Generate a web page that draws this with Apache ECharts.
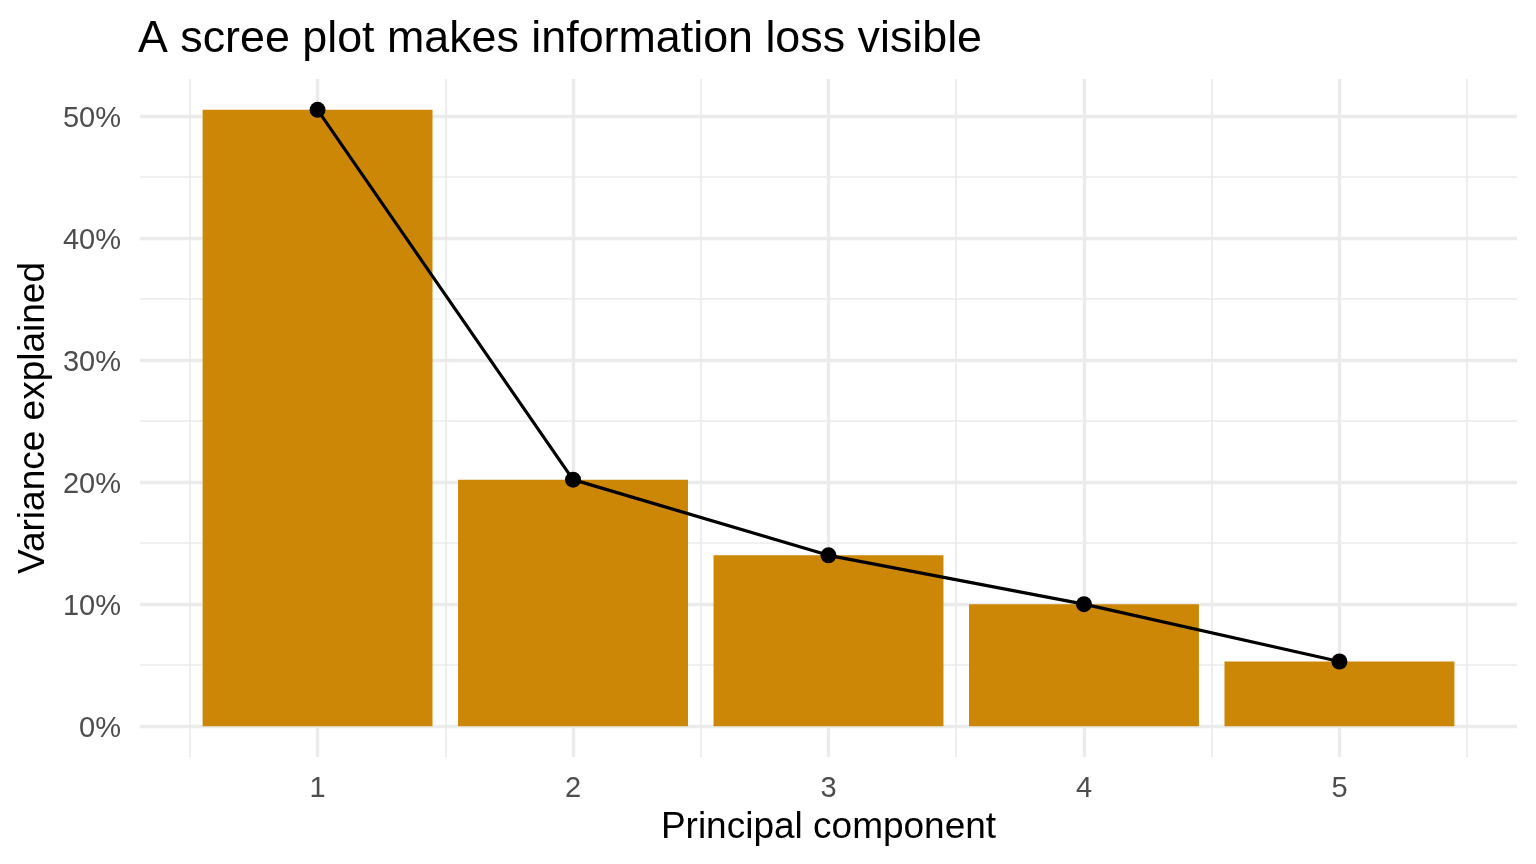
<!DOCTYPE html>
<html>
<head>
<meta charset="utf-8">
<script src="https://cdn.jsdelivr.net/npm/echarts@6/dist/echarts.min.js"></script>
<style>
  html, body { margin: 0; padding: 0; background: #fff; }
  #chart { width: 1536px; height: 864px; }
</style>
</head>
<body>
<div id="chart"></div>
<script>
// data
const components = [1, 2, 3, 4, 5];
const varianceExplained = [50.5, 20.2, 14.0, 10.0, 5.3];
const yMajorTicks = [0, 10, 20, 30, 40, 50];
const yMinorTicks = [5, 15, 25, 35, 45];
const xMajorTicks = [1, 2, 3, 4, 5];
const xMinorTicks = [0.5, 1.5, 2.5, 3.5, 4.5, 5.5];

const FONT = 'Liberation Sans, Arial, Helvetica, sans-serif';
const BAR_COLOR = '#CD8706';
const GRID_COLOR = '#EBEBEB';

// ggplot-like expansion: continuous x, bars width 0.9, 5% padding
const xMin = 0.55 - 0.05 * 4.9;
const xMax = 5.45 + 0.05 * 4.9;
const yTop = Math.max(...varianceExplained);
const yMin = -0.05 * yTop;
const yMax = yTop * 1.05;

const grid = { left: 140, right: 19, top: 79, bottom: 107 };
const plotWidth = 1536 - grid.left - grid.right;
const barWidth = 0.9 * plotWidth / (xMax - xMin);

const chart = echarts.init(document.getElementById('chart'), null, { renderer: 'canvas' });

const pairs = components.map((c, i) => [c, varianceExplained[i]]);

const option = {
  backgroundColor: '#ffffff',
  animation: false,
  title: {
    text: 'A scree plot makes information loss visible',
    left: 133,
    top: 12,
    textStyle: { fontFamily: FONT, fontSize: 44.8, fontWeight: 'normal', color: '#000' }
  },
  grid: { ...grid, containLabel: false },
  xAxis: [
    {
      type: 'value', min: xMin, max: xMax,
      name: 'Principal component',
      nameLocation: 'middle', nameGap: 52,
      nameTextStyle: { fontFamily: FONT, fontSize: 37, color: '#000' },
      axisLine: { show: false },
      axisTick: { show: false, customValues: xMajorTicks },
      axisLabel: {
        customValues: xMajorTicks, margin: 17,
        fontFamily: FONT, fontSize: 29, color: '#4D4D4D'
      },
      splitLine: { show: true, lineStyle: { color: GRID_COLOR, width: 3.4 } }
    },
    {
      type: 'value', min: xMin, max: xMax, position: 'top',
      axisLine: { show: false },
      axisTick: { show: false, customValues: xMinorTicks },
      axisLabel: { show: false, customValues: xMinorTicks },
      splitLine: { show: true, lineStyle: { color: GRID_COLOR, width: 1.7 } }
    }
  ],
  yAxis: [
    {
      type: 'value', min: yMin, max: yMax,
      name: 'Variance explained',
      nameLocation: 'middle', nameGap: 88, nameRotate: 90,
      nameTextStyle: { fontFamily: FONT, fontSize: 37, color: '#000' },
      axisLine: { show: false },
      axisTick: { show: false, customValues: yMajorTicks },
      axisLabel: {
        customValues: yMajorTicks, margin: 19,
        formatter: v => '{p|' + v + '%}',
        rich: {
          p: { fontFamily: FONT, fontSize: 29, color: '#4D4D4D', padding: [6, 0, 0, 0] }
        }
      },
      splitLine: { show: true, lineStyle: { color: GRID_COLOR, width: 3.4 } }
    },
    {
      type: 'value', min: yMin, max: yMax, position: 'right',
      axisLine: { show: false },
      axisTick: { show: false, customValues: yMinorTicks },
      axisLabel: { show: false, customValues: yMinorTicks },
      splitLine: { show: true, lineStyle: { color: GRID_COLOR, width: 1.7 } }
    }
  ],
  series: [
    {
      type: 'bar',
      xAxisIndex: 0, yAxisIndex: 0,
      data: pairs,
      barWidth: barWidth,
      itemStyle: { color: BAR_COLOR },
      z: 2
    },
    {
      type: 'line',
      xAxisIndex: 0, yAxisIndex: 0,
      data: pairs,
      symbol: 'circle',
      symbolSize: 16,
      itemStyle: { color: '#000' },
      lineStyle: { color: '#000', width: 3.2 },
      z: 3
    }
  ]
};

chart.setOption(option);
</script>
</body>
</html>
